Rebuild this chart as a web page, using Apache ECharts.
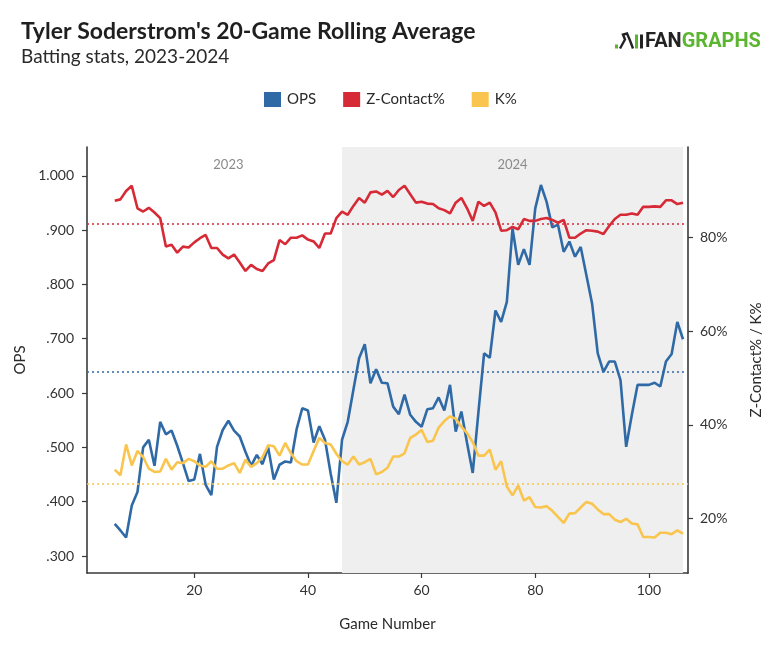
<!DOCTYPE html>
<html>
<head>
<meta charset="utf-8">
<script src="https://cdn.jsdelivr.net/npm/echarts@6/dist/echarts.min.js"></script>
<style>
html,body{margin:0;padding:0;background:#fff;}
#chart{width:768px;height:661px;}
</style>
</head>
<body>
<div id="chart"></div>
<script>
// ---- data ----
const firstGame = 6;   // games 6..106
const lastGame = 106;
const seasonStart2024 = 46;

const ops = [
  .359,.347,.334,.393,.418,.500,.514,.466,.547,.524,
  .531,.503,.471,.438,.441,.488,.431,.412,.501,.532,
  .549,.531,.520,.492,.466,.486,.469,.500,.441,.468,
  .474,.472,.533,.572,.568,.509,.539,.514,.452,.398,
  .514,.547,.606,.664,.690,.618,.644,.619,.618,.575,
  .561,.597,.560,.547,.538,.570,.572,.592,.568,.615,
  .529,.566,.508,.453,.565,.673,.665,.752,.731,.768,
  .903,.836,.865,.836,.940,.983,.952,.905,.910,.860,
  .879,.851,.869,.817,.765,.673,.639,.658,.658,.624,
  .501,.560,.615,.615,.615,.619,.612,.658,.672,.731,.699
];
const zContact = [
  87.9,88.2,90.0,91.1,86.3,85.6,86.4,85.4,84.2,78.1,
  78.5,76.8,78.1,77.9,79.0,79.9,80.6,77.8,77.8,76.4,
  75.6,76.4,74.7,72.9,74.2,73.3,72.9,74.5,75.2,79.5,
  78.6,80.0,80.0,80.5,79.6,79.2,77.8,80.9,80.9,84.2,
  85.6,84.9,86.8,88.5,87.5,89.7,89.9,89.2,90.0,88.7,
  90.2,91.1,89.3,87.5,87.7,87.3,87.2,86.3,85.9,85.2,
  87.5,88.5,86.3,83.6,87.7,86.8,87.5,85.4,81.5,81.6,
  82.3,81.8,84.0,83.6,83.6,84.0,84.2,83.8,83.2,83.8,
  80.0,80.0,80.9,81.6,81.5,81.3,80.8,82.5,84.0,84.9,
  84.9,85.2,84.9,86.6,86.6,86.7,86.6,88.0,88.0,87.2,87.5
];
const kPct = [
  30.4,29.2,35.8,31.3,34.4,33.1,30.6,29.9,30.0,32.7,
  30.4,32.0,31.8,32.7,32.2,31.3,31.0,32.2,30.6,30.6,
  31.3,31.8,29.7,32.5,31.0,31.8,33.1,35.6,35.4,33.4,
  36.1,33.9,32.2,31.5,31.5,34.4,37.2,36.1,35.8,33.8,
  32.2,31.5,33.2,31.5,32.0,32.7,29.4,29.9,30.8,33.2,
  33.2,33.9,37.2,37.9,38.9,36.3,36.6,39.4,40.8,41.8,
  41.3,39.6,38.2,36.3,33.4,33.4,34.7,30.4,32.2,26.8,
  24.9,27.0,23.8,24.5,22.4,22.3,22.6,21.6,20.3,19.0,
  21.0,21.1,22.3,23.5,23.1,21.9,20.9,20.9,19.7,19.2,
  19.9,18.9,18.7,16.0,16.0,15.9,16.9,16.9,16.6,17.4,16.7
];
const opsAvg = 0.635;
const zContactAvg = 83.0;
const kAvg = 27.3;

const xTicks = [20, 40, 60, 80, 100];
const opsTicks = [0.3, 0.4, 0.5, 0.6, 0.7, 0.8, 0.9, 1.0];
const pctTicks = [20, 40, 60, 80];

const seasonLabels = ['2023', '2024'];
const seriesNames = ['OPS', 'Z-Contact%', 'K%'];

// ---- build ----
const games = [];
for (let g = firstGame; g <= lastGame; g++) games.push(g);
const pairs = arr => arr.map((v, i) => [games[i], v]);

const C_OPS = '#2f6aa6', C_Z = '#d62a36', C_K = '#f9c54e';
const FONT = 'Lato, "Noto Sans", sans-serif';

const chart = echarts.init(document.getElementById('chart'), null, {renderer: 'canvas'});

const axisLine = {show: true, lineStyle: {color: '#3a3a3a', width: 1.6}};
const axisTick = {show: true, length: 5, lineStyle: {color: '#3a3a3a', width: 1.2}};

chart.setOption({
  backgroundColor: '#ffffff',
  animation: false,
  textStyle: {fontFamily: FONT},
  graphic: [
    {type: 'text', left: 21, top: 20, style: {text: "Tyler Soderstrom's 20-Game Rolling Average", font: 'bold 23px ' + FONT, fill: '#1f1f1f'}},
    {type: 'text', left: 21, top: 47, style: {text: 'Batting stats, 2023-2024', font: '19px ' + FONT, fill: '#2a2a2a'}},
    {type: 'group', left: 615, top: 31, children: [
      {type: 'rect', shape: {x: 0, y: 11, width: 3, height: 4}, style: {fill: '#5cb531'}},
      {type: 'polyline', shape: {points: [[5,15],[10,6],[8,1],[12,0],[15,7],[18,15]]}, style: {stroke: '#222', lineWidth: 2.4, fill: null}},
      {type: 'rect', shape: {x: 20, y: 1, width: 3, height: 14}, style: {fill: '#5cb531'}},
      {type: 'rect', shape: {x: 25, y: 1, width: 3, height: 14}, style: {fill: '#222'}},
      {type: 'text', x: 30, y: -2, style: {
        text: '{a|FAN}{b|GRAPHS}',
        rich: {
          a: {fontFamily: 'Roboto', fontWeight: 'bold', fontSize: 20, fill: '#222', color: '#222'},
          b: {fontFamily: 'Roboto', fontWeight: 'bold', fontSize: 20, fill: '#5cb531', color: '#5cb531'}
        }
      }}
    ]}
  ],
  legend: {
    data: seriesNames,
    left: 259,
    top: 87,
    icon: 'rect',
    itemWidth: 17,
    itemHeight: 15,
    itemGap: 27,
    textStyle: {fontSize: 15, color: '#2a2a2a', fontFamily: FONT, padding: [0, 0, 0, 1]}
  },
  grid: {left: 87, right: 80, top: 147, bottom: 88, containLabel: false, outerBoundsMode: 'none'},
  xAxis: {
    type: 'value',
    min: 1.12,
    max: 106.88,
    name: 'Game Number',
    nameLocation: 'middle',
    nameGap: 44,
    nameTextStyle: {fontSize: 15, color: '#2a2a2a', fontFamily: FONT},
    axisLine: axisLine,
    axisTick: Object.assign({customValues: xTicks}, axisTick),
    axisLabel: {customValues: xTicks, fontSize: 14, color: '#333', margin: 10, fontFamily: FONT},
    splitLine: {show: false}
  },
  yAxis: [
    {
      type: 'value',
      position: 'left',
      min: 0.2687,
      max: 1.053,
      name: 'OPS',
      nameLocation: 'middle',
      nameRotate: 90,
      nameGap: 57,
      nameTextStyle: {fontSize: 15, color: '#2a2a2a', fontFamily: FONT},
      axisLine: axisLine,
      axisTick: Object.assign({customValues: opsTicks}, axisTick),
      axisLabel: {
        customValues: opsTicks, fontSize: 14, color: '#333', margin: 13, fontFamily: FONT,
        formatter: v => { const s = (+v).toFixed(3); return v >= 1 ? s : s.replace(/^0/, ''); }
      },
      splitLine: {show: false}
    },
    {
      type: 'value',
      position: 'right',
      min: 8.3,
      max: 99.4,
      name: 'Z-Contact% / K%',
      nameLocation: 'middle',
      nameRotate: 90,
      nameGap: 61,
      nameTextStyle: {fontSize: 15, color: '#2a2a2a', fontFamily: FONT},
      axisLine: axisLine,
      axisTick: Object.assign({customValues: pctTicks}, axisTick),
      axisLabel: {customValues: pctTicks, fontSize: 14, color: '#333', margin: 12, fontFamily: FONT, formatter: v => Math.round(v) + '%'},
      splitLine: {show: false}
    }
  ],
  series: [
    {
      name: 'OPS',
      type: 'line',
      yAxisIndex: 0,
      data: pairs(ops),
      showSymbol: false,
      lineStyle: {color: C_OPS, width: 2.6},
      itemStyle: {color: C_OPS},
      z: 3,
      markArea: {
        silent: true,
        label: {position: 'insideTop', distance: 11, color: '#8a8a8a', fontSize: 13, fontFamily: FONT},
        data: [
          [{xAxis: firstGame, name: seasonLabels[0], itemStyle: {color: 'rgba(0,0,0,0)'}}, {xAxis: seasonStart2024}],
          [{xAxis: seasonStart2024, name: seasonLabels[1], itemStyle: {color: '#efefef'}}, {xAxis: lastGame}]
        ]
      },
      markLine: {
        silent: true, symbol: 'none', label: {show: false},
        lineStyle: {color: C_OPS, type: [2, 3], width: 1.6},
        data: [{yAxis: opsAvg}]
      }
    },
    {
      name: 'Z-Contact%',
      type: 'line',
      yAxisIndex: 1,
      data: pairs(zContact),
      showSymbol: false,
      lineStyle: {color: C_Z, width: 2.6},
      itemStyle: {color: C_Z},
      z: 4,
      markLine: {
        silent: true, symbol: 'none', label: {show: false},
        lineStyle: {color: C_Z, type: [2, 3], width: 1.6},
        data: [{yAxis: zContactAvg}]
      }
    },
    {
      name: 'K%',
      type: 'line',
      yAxisIndex: 1,
      data: pairs(kPct),
      showSymbol: false,
      lineStyle: {color: C_K, width: 2.6},
      itemStyle: {color: C_K},
      z: 5,
      markLine: {
        silent: true, symbol: 'none', label: {show: false},
        lineStyle: {color: C_K, type: [2, 3], width: 1.6},
        data: [{yAxis: kAvg}]
      }
    }
  ]
});
</script>
</body>
</html>
